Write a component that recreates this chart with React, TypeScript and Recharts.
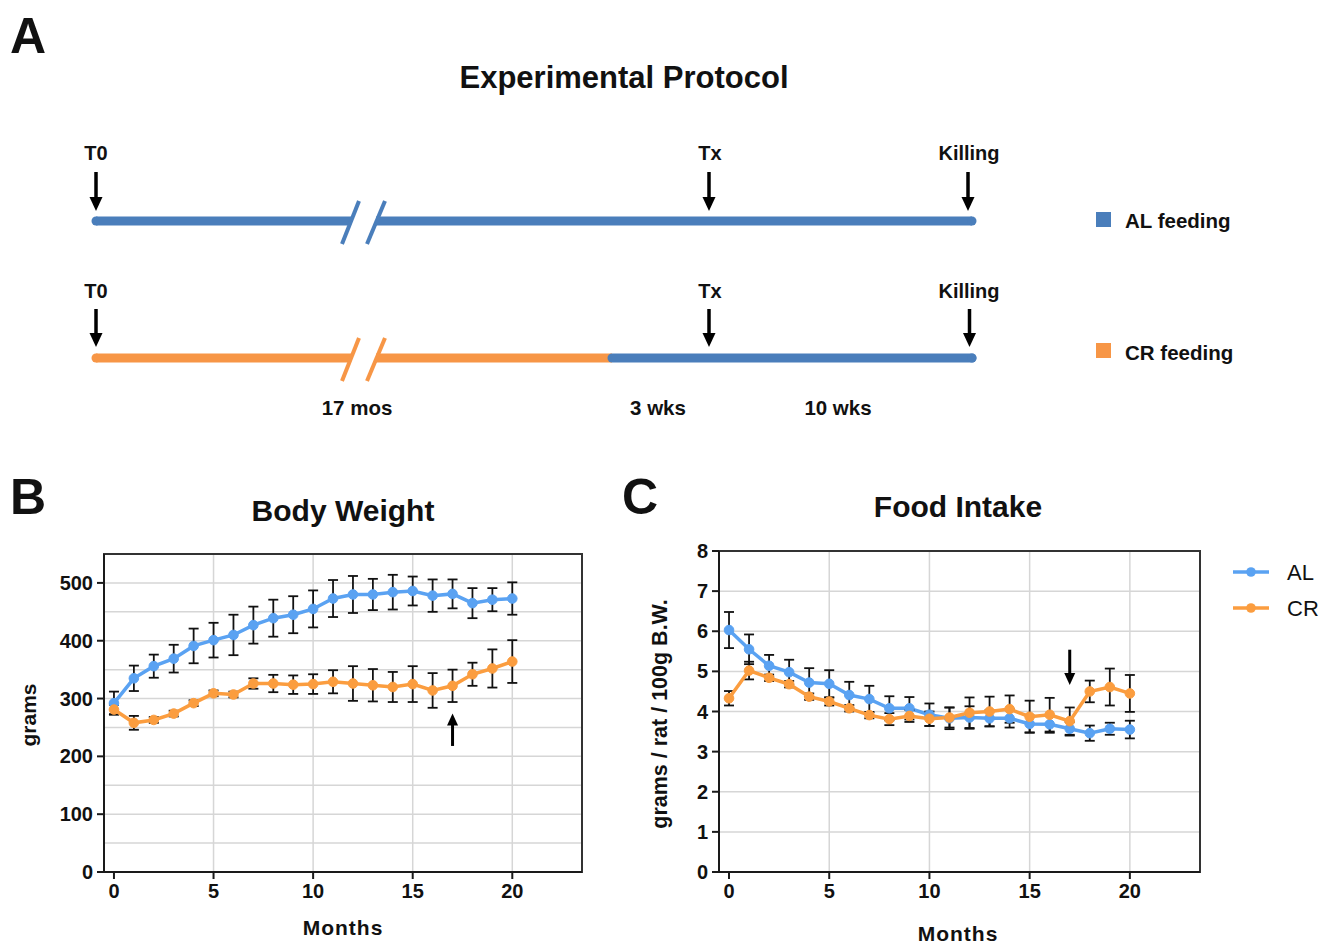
import React from 'react';
import {
  CartesianGrid,
  ErrorBar,
  Line,
  LineChart,
  ReferenceArea,
  ReferenceLine,
  XAxis,
  YAxis,
} from 'recharts';

const FONT = '"Liberation Sans", Arial, Helvetica, sans-serif';
const AL_COLOR = '#5aa2f2';
const CR_COLOR = '#fb9d3f';
const PROTO_BLUE = '#4a7ebb';
const PROTO_ORANGE = '#f79646';
const AXIS = '#1a1a1a';
const GRID = '#d6d6d6';

const months = [0, 1, 2, 3, 4, 5, 6, 7, 8, 9, 10, 11, 12, 13, 14, 15, 16, 17, 18, 19, 20];
const monthTicks = [0, 5, 10, 15, 20];

// body weight (grams), mean and error
const alWeight = [292, 335, 356, 369, 391, 401, 410, 427, 439, 445, 455, 473, 480, 480, 484, 486, 478, 481, 465, 471, 473];
const alWeightErr = [20, 22, 20, 24, 30, 30, 35, 32, 32, 32, 32, 32, 32, 27, 30, 25, 28, 25, 26, 20, 28];
const crWeight = [281, 258, 263, 274, 292, 309, 307, 326, 326, 324, 325, 329, 326, 323, 320, 325, 314, 322, 342, 352, 364];
const crWeightErr = [8, 12, 5, 5, 5, 5, 5, 9, 15, 16, 17, 20, 30, 28, 26, 31, 30, 28, 20, 33, 37];
const weightTicks = [0, 100, 200, 300, 400, 500];
const weightGrid = [50, 100, 150, 200, 250, 300, 350, 400, 450, 500];

// food intake (g / rat / 100g B.W.)
const alIntake = [6.03, 5.55, 5.14, 4.98, 4.72, 4.69, 4.41, 4.31, 4.08, 4.08, 3.92, 3.83, 3.85, 3.83, 3.83, 3.69, 3.68, 3.57, 3.46, 3.57, 3.55];
const alIntakeErr = [0.45, 0.37, 0.27, 0.31, 0.36, 0.34, 0.33, 0.33, 0.3, 0.28, 0.28, 0.27, 0.28, 0.2, 0.23, 0.21, 0.21, 0.17, 0.19, 0.15, 0.22];
const crIntake = [4.33, 5.02, 4.84, 4.68, 4.37, 4.25, 4.08, 3.91, 3.81, 3.89, 3.82, 3.85, 3.97, 4.0, 4.06, 3.87, 3.92, 3.76, 4.5, 4.61, 4.45];
const crIntakeErr = [0.18, 0.22, 0.08, 0.08, 0.08, 0.1, 0.08, 0.08, 0.15, 0.15, 0.18, 0.25, 0.38, 0.37, 0.34, 0.4, 0.42, 0.34, 0.27, 0.46, 0.46];
const intakeTicks = [0, 1, 2, 3, 4, 5, 6, 7, 8];
const intakeGrid = [1, 2, 3, 4, 5, 6, 7];

const weightRows = months.map((m, i) => ({
  month: m,
  al: alWeight[i],
  alErr: alWeightErr[i],
  cr: crWeight[i],
  crErr: crWeightErr[i],
}));

const intakeRows = months.map((m, i) => ({
  month: m,
  al: alIntake[i],
  alErr: alIntakeErr[i],
  cr: crIntake[i],
  crErr: crIntakeErr[i],
}));

const tickStyle = { fontSize: 20, fontWeight: 700, fill: '#111', fontFamily: FONT };

const arrowShape = (dir: 'up' | 'down') => (props: any) => {
  const { x1, y1, y2 } = props;
  const top = Math.min(y1, y2);
  const bottom = Math.max(y1, y2);
  if (dir === 'up') {
    return (
      <g>
        <line x1={x1} y1={top + 10} x2={x1} y2={bottom} stroke="#000" strokeWidth={3} />
        <polygon points={`${x1 - 5.5},${top + 12} ${x1 + 5.5},${top + 12} ${x1},${top}`} fill="#000" />
      </g>
    );
  }
  return (
    <g>
      <line x1={x1} y1={top} x2={x1} y2={bottom - 10} stroke="#000" strokeWidth={3} />
      <polygon points={`${x1 - 5.5},${bottom - 12} ${x1 + 5.5},${bottom - 12} ${x1},${bottom}`} fill="#000" />
    </g>
  );
};

function Panel({ data, yMax, yTicks, gridY, yWidth, plotHeight, margin, width, height, arrow }: any) {
  return (
    <LineChart width={width} height={height} data={data} margin={margin}>
      <CartesianGrid
        horizontalValues={gridY}
        verticalValues={[5, 10, 15, 20]}
        stroke={GRID}
        strokeWidth={1.5}
      />
      <ReferenceArea
        x1={-0.5}
        x2={23.5}
        y1={0}
        y2={yMax}
        fill="none"
        fillOpacity={0}
        stroke="#333"
        strokeWidth={2}
      />
      <XAxis
        dataKey="month"
        type="number"
        domain={[-0.5, 23.5]}
        ticks={monthTicks}
        interval={0}
        tick={tickStyle}
        tickSize={7}
        tickMargin={5}
        height={height - margin.top - margin.bottom - plotHeight}
        axisLine={{ stroke: AXIS, strokeWidth: 2 }}
        tickLine={{ stroke: AXIS, strokeWidth: 2 }}
      />
      <YAxis
        type="number"
        domain={[0, yMax]}
        ticks={yTicks}
        interval={0}
        tick={tickStyle}
        tickSize={7}
        tickMargin={4}
        width={yWidth}
        axisLine={{ stroke: AXIS, strokeWidth: 2 }}
        tickLine={{ stroke: AXIS, strokeWidth: 2 }}
      />
      <Line
        dataKey="al"
        stroke={AL_COLOR}
        strokeWidth={3.5}
        dot={{ r: 4.8, fill: AL_COLOR, stroke: AL_COLOR, strokeWidth: 1 }}
        isAnimationActive={false}
      >
        <ErrorBar dataKey="alErr" width={5} stroke="#111" strokeWidth={1.8} direction="y" />
      </Line>
      <Line
        dataKey="cr"
        stroke={CR_COLOR}
        strokeWidth={3.5}
        dot={{ r: 4.8, fill: CR_COLOR, stroke: CR_COLOR, strokeWidth: 1 }}
        isAnimationActive={false}
      >
        <ErrorBar dataKey="crErr" width={5} stroke="#111" strokeWidth={1.8} direction="y" />
      </Line>
      <ReferenceLine segment={arrow.segment} shape={arrowShape(arrow.dir)} />
    </LineChart>
  );
}

function VArrow({ x, y1, y2 }: { x: number; y1: number; y2: number }) {
  return (
    <g>
      <line x1={x} y1={y1} x2={x} y2={y2 - 12} stroke="#000" strokeWidth={3.5} />
      <polygon points={`${x - 6.5},${y2 - 14} ${x + 6.5},${y2 - 14} ${x},${y2}`} fill="#000" />
    </g>
  );
}

function Protocol() {
  const rows = [
    { y: 221, labelY: 153, a1: 172, a2: 211, split: 0 },
    { y: 358, labelY: 291, a1: 309, a2: 347, split: 612 },
  ];
  return (
    <g>
      {rows.map((r, i) => {
        const first = i === 0 ? PROTO_BLUE : PROTO_ORANGE;
        return (
          <g key={i}>
            <circle cx={96} cy={r.y} r={4.5} fill={first} />
            <line x1={96} y1={r.y} x2={351} y2={r.y} stroke={first} strokeWidth={9} />
            {r.split ? (
              <>
                <line x1={376} y1={r.y} x2={r.split} y2={r.y} stroke={first} strokeWidth={9} />
                <line x1={r.split} y1={r.y} x2={972} y2={r.y} stroke={PROTO_BLUE} strokeWidth={9} strokeLinecap="round" />
              </>
            ) : (
              <line x1={376} y1={r.y} x2={972} y2={r.y} stroke={first} strokeWidth={9} />
            )}
            <circle cx={972} cy={r.y} r={4.5} fill={PROTO_BLUE} />
            <line x1={342} y1={r.y + 23} x2={359} y2={r.y - 20} stroke={first} strokeWidth={4} />
            <line x1={367} y1={r.y + 23} x2={385} y2={r.y - 20} stroke={first} strokeWidth={4} />
            <VArrow x={96} y1={r.a1} y2={r.a2} />
            <VArrow x={709} y1={r.a1} y2={r.a2} />
            <VArrow x={968 + i * 1.5} y1={r.a1} y2={r.a2} />
            <text x={96} y={r.labelY} textAnchor="middle" dominantBaseline="central" fontSize={20} fontWeight={700}>T0</text>
            <text x={710} y={r.labelY} textAnchor="middle" dominantBaseline="central" fontSize={20} fontWeight={700}>Tx</text>
            <text x={969} y={r.labelY} textAnchor="middle" dominantBaseline="central" fontSize={20} fontWeight={700}>Killing</text>
          </g>
        );
      })}
      <rect x={1096} y={212} width={15} height={15} fill={PROTO_BLUE} />
      <text x={1125} y={220} dominantBaseline="central" fontSize={20.5} fontWeight={700}>AL feeding</text>
      <rect x={1096} y={343} width={15} height={15} fill={PROTO_ORANGE} />
      <text x={1125} y={352} dominantBaseline="central" fontSize={20.5} fontWeight={700}>CR feeding</text>
      <text x={357} y={407} textAnchor="middle" dominantBaseline="central" fontSize={20.5} fontWeight={700}>17 mos</text>
      <text x={658} y={407} textAnchor="middle" dominantBaseline="central" fontSize={20.5} fontWeight={700}>3 wks</text>
      <text x={838} y={407} textAnchor="middle" dominantBaseline="central" fontSize={20.5} fontWeight={700}>10 wks</text>
    </g>
  );
}

export default function App() {
  return (
    <div
      style={{
        position: 'absolute',
        left: 0,
        top: 0,
        width: 1333,
        height: 944,
        overflow: 'hidden',
        background: '#fff',
        fontFamily: FONT,
      }}
    >
      <svg width={1333} height={944} style={{ position: 'absolute', left: 0, top: 0 }} fontFamily={FONT} fill="#111">
        <text x={28} y={36} textAnchor="middle" dominantBaseline="central" fontSize={50} fontWeight={700}>A</text>
        <text x={624} y={77} textAnchor="middle" dominantBaseline="central" fontSize={31} fontWeight={700}>Experimental Protocol</text>
        <Protocol />

        <text x={28} y={497} textAnchor="middle" dominantBaseline="central" fontSize={50} fontWeight={700}>B</text>
        <text x={343} y={510} textAnchor="middle" dominantBaseline="central" fontSize={30} fontWeight={700}>Body Weight</text>
        <text x={28} y={715} textAnchor="middle" dominantBaseline="central" fontSize={21} fontWeight={700} transform="rotate(-90 28 715)">grams</text>
        <text x={343} y={927} textAnchor="middle" dominantBaseline="central" fontSize={21} fontWeight={700} letterSpacing={1}>Months</text>

        <text x={640} y={497} textAnchor="middle" dominantBaseline="central" fontSize={50} fontWeight={700}>C</text>
        <text x={958} y={506} textAnchor="middle" dominantBaseline="central" fontSize={30} fontWeight={700}>Food Intake</text>
        <text x={660} y={714} textAnchor="middle" dominantBaseline="central" fontSize={21.5} fontWeight={700} transform="rotate(-90 660 714)">grams / rat / 100g B.W.</text>
        <text x={958} y={933} textAnchor="middle" dominantBaseline="central" fontSize={21} fontWeight={700} letterSpacing={1}>Months</text>

        <line x1={1233} y1={572} x2={1269} y2={572} stroke={AL_COLOR} strokeWidth={3.5} />
        <circle cx={1251} cy={572} r={4.8} fill={AL_COLOR} />
        <text x={1287} y={572} dominantBaseline="central" fontSize={22}>AL</text>
        <line x1={1233} y1={608} x2={1269} y2={608} stroke={CR_COLOR} strokeWidth={3.5} />
        <circle cx={1251} cy={608} r={4.8} fill={CR_COLOR} />
        <text x={1287} y={608} dominantBaseline="central" fontSize={22}>CR</text>
      </svg>

      <div style={{ position: 'absolute', left: 0, top: 530 }}>
        <Panel
          data={weightRows}
          yMax={550}
          yTicks={weightTicks}
          gridY={weightGrid}
          yWidth={104}
          plotHeight={318}
          width={600}
          height={410}
          margin={{ top: 24, right: 18, left: 0, bottom: 0 }}
          arrow={{ dir: 'up', segment: [{ x: 17, y: 218 }, { x: 17, y: 274 }] }}
        />
      </div>
      <div style={{ position: 'absolute', left: 620, top: 527 }}>
        <Panel
          data={intakeRows}
          yMax={8}
          yTicks={intakeTicks}
          gridY={intakeGrid}
          yWidth={99}
          plotHeight={321}
          width={600}
          height={410}
          margin={{ top: 24, right: 20, left: 0, bottom: 0 }}
          arrow={{ dir: 'down', segment: [{ x: 17, y: 4.66 }, { x: 17, y: 5.54 }] }}
        />
      </div>
    </div>
  );
}
